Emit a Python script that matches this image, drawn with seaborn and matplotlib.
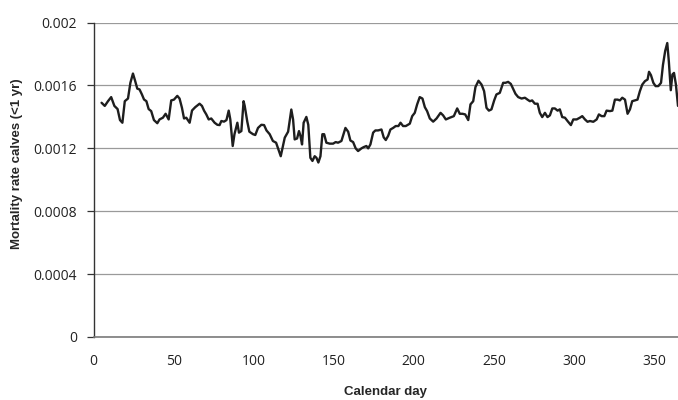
import numpy as np
import pandas as pd
import matplotlib
matplotlib.use("Agg")
import matplotlib.pyplot as plt
import seaborn as sns

# calendar day and mortality rate
days = [5, 7, 9, 11, 13, 15, 16.5, 18, 19.5, 21.5, 23, 24.6, 26, 27.3, 28.7,
        30.2, 31.5, 33, 34.4, 36, 37.7, 39.8, 41.2, 43.3, 45, 46.9, 48.5, 50.2,
        52.3, 53.7, 55.2, 56.5, 57.9, 60, 61.5, 63.5, 66.2, 67.7, 69, 70.4,
        71.9, 73.5, 75.6, 77.3, 78.7, 79.8, 81.5, 83, 84.4, 85.4, 86.9, 88,
        89.8, 90.8, 92.3, 93.7, 94.4, 96, 97.3, 99.6, 101, 102.7, 104.8, 106.5,
        108, 110, 112, 114, 115.2, 116.9, 118.3, 119.4, 121.5, 123.5, 124.6,
        125.6, 127.1, 128.3, 129.2, 130.2, 131.2, 132.9, 134.1, 135.4, 136.7,
        138.1, 139.2, 140.4, 141.7, 142.9, 144, 145.4, 147.5, 149.6, 151.2,
        152.7, 154.8, 155.8, 157.3, 159, 160.4, 162.1, 163.7, 165.2, 167.3,
        168.7, 170.4, 171.5, 172.9, 174.6, 176, 177.7, 179.8, 181.2, 182.5,
        184, 185.4, 187.1, 188.7, 190.4, 191.7, 193.3, 195, 197.5, 199, 200.6,
        202.1, 203.7, 205.4, 206.9, 208.3, 210, 212.1, 214.2, 216.7, 218.3,
        220, 222.5, 225, 227.1, 228.7, 230.4, 232.1, 234, 235.4, 237.1, 238.5,
        240.4, 242.3, 243.9, 245.4, 246.9, 248.5, 250.2, 251.6, 253.7, 255.8,
        257.3, 258.9, 260.6, 262, 263.5, 265.2, 267.3, 269.4, 271, 272.5,
        273.9, 275.6, 277.3, 278.7, 280.2, 281.9, 283.5, 285, 286.5, 288.1,
        289.8, 291.2, 292.7, 294.4, 296, 298.1, 299.6, 301.7, 303.7, 305.2,
        306.9, 308.5, 310, 312.1, 314.2, 315.6, 317.3, 319, 320.4, 322.5, 324,
        325.6, 327.3, 328.7, 330.2, 331.9, 333.5, 335, 336.4, 338.1, 339.7,
        341.2, 342.7, 344.4, 346, 346.9, 348.1, 349.6, 351, 352.7, 354.4,
        355.6, 357, 358.3, 359.3, 360.5, 361.5, 362.5, 363.7, 365]

mortality = [0.00149, 0.00147, 0.00150, 0.001526, 0.00147, 0.00145, 0.00138,
             0.001363, 0.0015, 0.001517, 0.001617, 0.001676, 0.001628, 0.00158,
             0.001575, 0.001543, 0.001511, 0.0015, 0.00145, 0.001437, 0.00138,
             0.00136, 0.001384, 0.001395, 0.00142, 0.001384, 0.001505, 0.00151,
             0.001534, 0.001517, 0.001458, 0.00139, 0.001395, 0.001363,
             0.001441, 0.001462, 0.001484, 0.00147, 0.00144, 0.001416,
             0.001384, 0.00139, 0.001363, 0.00135, 0.001348, 0.001374,
             0.00137, 0.00138, 0.00144, 0.001384, 0.001215, 0.00129, 0.001363,
             0.0013, 0.00131, 0.0015, 0.00147, 0.00137, 0.001306, 0.00129,
             0.001285, 0.00133, 0.00135, 0.001348, 0.001314, 0.00129, 0.001247,
             0.001236, 0.0012, 0.00115, 0.001215, 0.001268, 0.001306, 0.001447,
             0.001384, 0.001257, 0.001263, 0.00131, 0.00128, 0.001225,
             0.001363, 0.0014, 0.00135, 0.00114, 0.00112, 0.00115, 0.00114,
             0.00111, 0.00115, 0.00129, 0.00129, 0.001236, 0.00123, 0.00123,
             0.00124, 0.001236, 0.001247, 0.00128, 0.00133, 0.001306, 0.00125,
             0.00124, 0.0012, 0.001183, 0.0012, 0.001208, 0.001215, 0.0012,
             0.001225, 0.0013, 0.001314, 0.001314, 0.00132, 0.00127, 0.001253,
             0.00128, 0.00132, 0.00133, 0.001342, 0.001342, 0.001363, 0.001342,
             0.001342, 0.001357, 0.001405, 0.001426, 0.00148, 0.001526,
             0.001517, 0.001462, 0.001437, 0.00139, 0.00137, 0.00139, 0.001426,
             0.00141, 0.001384, 0.001395, 0.001405, 0.001454, 0.00142, 0.00142,
             0.001416, 0.00138, 0.00148, 0.0015, 0.00159, 0.00163, 0.001606,
             0.001564, 0.001458, 0.00144, 0.001448, 0.001505, 0.001543,
             0.001553, 0.001617, 0.001617, 0.001623, 0.00161, 0.00158,
             0.001547, 0.001526, 0.001517, 0.001522, 0.00151, 0.0015, 0.001505,
             0.001484, 0.001484, 0.001426, 0.001399, 0.001426, 0.001399,
             0.00141, 0.001454, 0.001454, 0.00144, 0.001448, 0.001399,
             0.001395, 0.001374, 0.001348, 0.001384, 0.001384, 0.001395,
             0.001405, 0.001384, 0.001369, 0.001374, 0.001369, 0.001384,
             0.001416, 0.001405, 0.001405, 0.00144, 0.001437, 0.00144, 0.00151,
             0.00151, 0.001505, 0.001522, 0.00151, 0.00142, 0.001448, 0.0015,
             0.001505, 0.00151, 0.001564, 0.001606, 0.001628, 0.001638,
             0.001687, 0.001666, 0.001617, 0.001596, 0.001596, 0.001617,
             0.00173, 0.00182, 0.00187, 0.00175, 0.00157, 0.00167, 0.00168,
             0.001606, 0.00147]

y_ticks = [0, 0.0004, 0.0008, 0.0012, 0.0016, 0.002]
y_tick_labels = ["0", "0.0004", "0.0008", "0.0012", "0.0016", "0.002"]
x_ticks = [0, 50, 100, 150, 200, 250, 300, 350]

df = pd.DataFrame({"day": days, "rate": mortality})

sns.set_style("white")
plt.rcParams["font.family"] = ["Open Sans", "DejaVu Sans"]

fig = plt.figure(figsize=(6.78, 4.0), dpi=100)
ax = fig.add_axes([0.138, 0.1575, 0.862, 0.786])

sns.lineplot(data=df, x="day", y="rate", ax=ax, color="#1e1e1e", linewidth=1.7,
             sort=False)

ax.set_xlim(0, 365)
ax.set_ylim(0, 0.002)
ax.set_yticks(y_ticks)
ax.set_yticklabels(y_tick_labels)
ax.set_xticks(x_ticks)

# horizontal grid only, Excel style
ax.grid(axis="y", color="#9a9a9a", linewidth=0.9)
ax.grid(axis="x", visible=False)
ax.set_axisbelow(True)

for side in ["top", "right"]:
    ax.spines[side].set_visible(False)
ax.spines["left"].set_color("#333333")
ax.spines["left"].set_linewidth(1.0)
ax.spines["bottom"].set_color("#7a7a7a")
ax.spines["bottom"].set_linewidth(1.2)

ax.tick_params(axis="y", which="major", left=True, length=5, width=0.9,
               color="#333333", pad=7, labelsize=10, labelcolor="#222222")
ax.tick_params(axis="x", which="major", bottom=False, length=0, pad=12,
               labelsize=10, labelcolor="#222222")

ax.set_xlabel("Calendar day", fontsize=9.5, fontweight="bold",
              family=["Liberation Sans", "DejaVu Sans"])
ax.set_ylabel("Mortality rate calves (<1 yr)", fontsize=9.5, fontweight="bold",
              family=["Liberation Sans", "DejaVu Sans"])
ax.xaxis.set_label_coords(0.499, -0.155)
ax.yaxis.set_label_coords(-0.12, 0.55)

fig.savefig("out.png", dpi=100)
